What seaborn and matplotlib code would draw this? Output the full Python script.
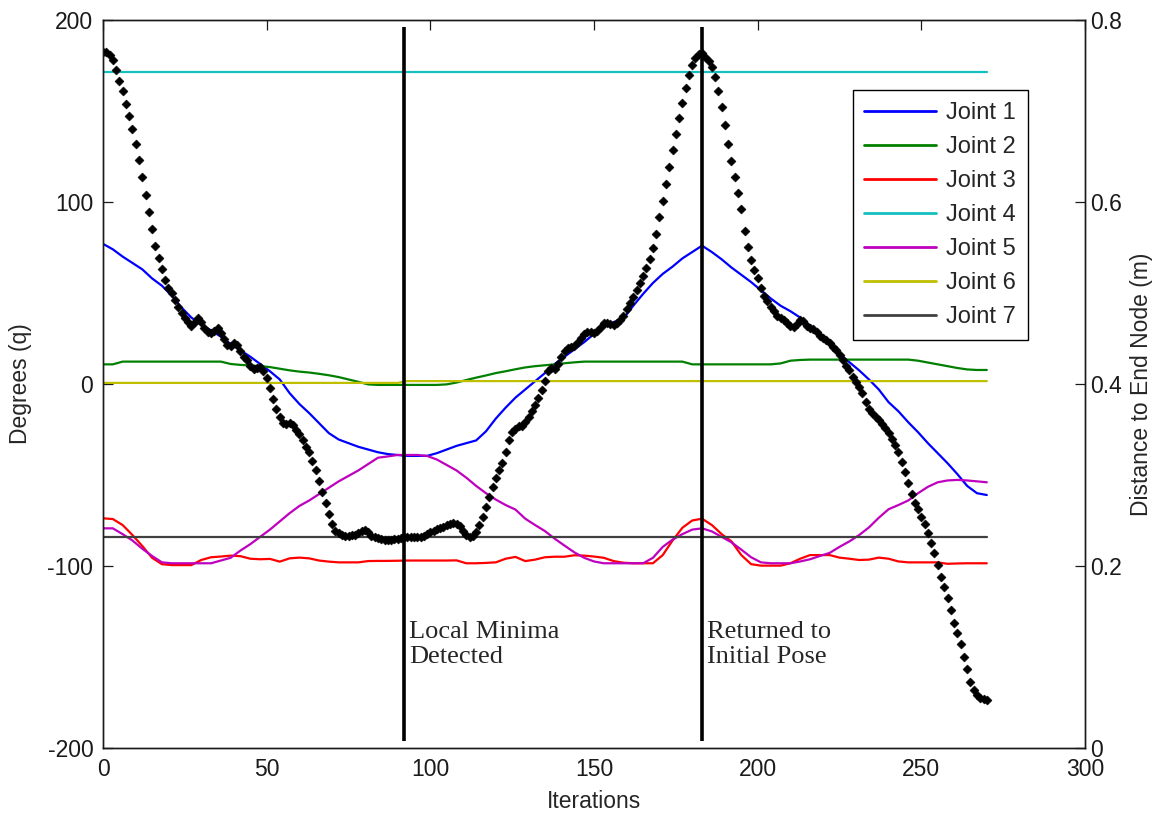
import matplotlib
matplotlib.use("Agg")
import matplotlib.pyplot as plt
import pandas as pd
import seaborn as sns

# Joint angles, read every 3 iterations
joint_iter = list(range(0, 271, 3))
joint_names = ["Joint 1", "Joint 2", "Joint 3", "Joint 4", "Joint 5", "Joint 6", "Joint 7"]

joint1 = [77, 74, 70, 66.5, 63, 58, 54, 48.5, 42, 36.5,
          32.5, 29.5, 26, 22, 18.5, 15, 11, 7, 2.5, -5,
          -11, -16, -21.5, -27, -30.5, -32.5, -34.5, -36, -37.5, -38.5,
          -39, -39.5, -39.5, -39.5, -38, -36, -34, -32.5, -31, -26,
          -19, -13, -7.5, -3, 1.5, 6, 11, 15, 19, 23,
          27.5, 31.5, 34, 36, 43, 49.5, 55.5, 60.5, 64.5, 69,
          72.5, 76, 72.5, 68.5, 64, 60, 56, 51.5, 47, 43,
          40, 36.5, 32, 27, 21.5, 16.5, 12, 7.5, 2.5, -3,
          -10, -15, -21, -26.5, -32.5, -38, -43.5, -49.5, -56, -60,
          -61]
joint2 = [10.8, 10.8, 12.3, 12.3, 12.3, 12.3, 12.3, 12.3, 12.3, 12.3,
          12.3, 12.3, 12.3, 11.0, 10.5, 10.2, 9.8, 9.3, 8.4, 7.5,
          6.8, 6.3, 5.6, 4.8, 3.8, 2.5, 1.2, -0.2, -0.5, -0.5,
          -0.5, -0.5, -0.5, -0.5, -0.5, -0.2, 0.8, 2.2, 3.5, 4.7,
          6.0, 7.0, 8.1, 9.1, 9.8, 10.3, 10.8, 11.4, 11.9, 12.3,
          12.3, 12.3, 12.3, 12.3, 12.3, 12.3, 12.3, 12.3, 12.3, 12.3,
          10.8, 10.8, 10.8, 10.8, 10.8, 10.8, 10.8, 10.8, 10.8, 11.3,
          12.8, 13.2, 13.4, 13.4, 13.4, 13.4, 13.4, 13.4, 13.4, 13.4,
          13.4, 13.4, 13.4, 12.8, 11.8, 10.8, 9.8, 8.8, 8.0, 7.7,
          7.7]
joint3 = [-73.8, -74.2, -77.5, -83.0, -89.0, -95.5, -99.0, -99.5, -99.5, -99.5,
          -96.7, -95.2, -94.8, -94.3, -94.6, -96.0, -96.3, -96.1, -97.6, -95.8,
          -95.4, -95.8, -97.0, -97.6, -98.0, -98.0, -98.0, -97.3, -97.2, -97.2,
          -97.1, -97.0, -97.0, -97.0, -97.0, -97.0, -96.9, -98.5, -98.5, -98.3,
          -98.0, -96.0, -95.0, -97.3, -96.5, -95.2, -94.9, -94.9, -94.1, -94.3,
          -94.8, -95.5, -97.3, -98.2, -98.5, -98.5, -98.5, -94.0, -86.0, -79.0,
          -75.0, -74.0, -77.5, -82.5, -86.5, -94.0, -99.0, -99.8, -99.8, -99.8,
          -98.5, -96.0, -94.0, -94.0, -94.0, -95.4, -96.0, -96.7, -96.5, -95.4,
          -96.0, -97.5, -98.0, -98.0, -98.0, -98.0, -98.8, -98.6, -98.5, -98.5,
          -98.5]
joint4 = [171.4] * len(joint_iter)
joint5 = [-79.3, -79.3, -82.5, -86.0, -90.5, -94.5, -98.0, -98.5, -98.5, -98.5,
          -98.5, -98.5, -97.0, -95.5, -91.5, -88.0, -84.0, -80.0, -75.5, -71.0,
          -67.0, -64.0, -60.5, -57.0, -53.5, -50.5, -47.5, -44.0, -40.5, -39.8,
          -39.0, -39.0, -39.0, -39.5, -41.5, -44.5, -47.5, -51.5, -56.0, -60.0,
          -63.5, -66.5, -69.0, -74.0, -77.5, -80.8, -85.0, -88.8, -92.5, -95.5,
          -97.5, -98.5, -98.5, -98.5, -98.5, -98.5, -95.5, -89.5, -85.5, -82.5,
          -80.0, -79.3, -81.0, -84.0, -87.0, -91.0, -95.2, -98.0, -98.5, -98.5,
          -98.5, -97.5, -96.3, -94.5, -92.8, -89.5, -86.5, -83.0, -78.8, -73.5,
          -68.8, -66.5, -64.0, -60.0, -56.5, -54.0, -53.0, -52.7, -53.0, -53.5,
          -54.0]
joint6 = [0.6] * 31 + [1.6] * 60
joint7 = [-84.3] * len(joint_iter)

# Distance to end node (m), one value per iteration
dist_iter = list(range(0, 271))
dist = [0.765, 0.765, 0.761, 0.756, 0.745, 0.733, 0.722, 0.708, 0.694, 0.680,
        0.664, 0.646, 0.627, 0.608, 0.589, 0.570, 0.552, 0.538, 0.526, 0.514,
        0.505, 0.500, 0.492, 0.485, 0.478, 0.473, 0.468, 0.464, 0.468, 0.472,
        0.468, 0.461, 0.457, 0.456, 0.458, 0.461, 0.456, 0.449, 0.443, 0.442,
        0.445, 0.443, 0.436, 0.430, 0.426, 0.420, 0.417, 0.418, 0.419, 0.414,
        0.407, 0.396, 0.384, 0.372, 0.364, 0.357, 0.356, 0.357, 0.355, 0.350,
        0.345, 0.338, 0.331, 0.325, 0.315, 0.305, 0.293, 0.281, 0.269, 0.257,
        0.246, 0.239, 0.236, 0.234, 0.233, 0.233, 0.234, 0.234, 0.236, 0.238,
        0.240, 0.237, 0.233, 0.232, 0.231, 0.230, 0.229, 0.229, 0.229, 0.230,
        0.230, 0.231, 0.232, 0.232, 0.232, 0.232, 0.232, 0.232, 0.233, 0.235,
        0.237, 0.239, 0.241, 0.242, 0.243, 0.245, 0.246, 0.247, 0.246, 0.244,
        0.238, 0.234, 0.232, 0.233, 0.237, 0.245, 0.254, 0.265, 0.276, 0.287,
        0.297, 0.305, 0.313, 0.325, 0.338, 0.347, 0.351, 0.354, 0.354, 0.358,
        0.364, 0.370, 0.377, 0.385, 0.393, 0.403, 0.414, 0.418, 0.416, 0.422,
        0.430, 0.436, 0.440, 0.441, 0.442, 0.446, 0.451, 0.455, 0.457, 0.457,
        0.456, 0.458, 0.463, 0.467, 0.467, 0.466, 0.465, 0.467, 0.470, 0.475,
        0.482, 0.489, 0.496, 0.503, 0.511, 0.519, 0.527, 0.537, 0.549, 0.565,
        0.583, 0.601, 0.620, 0.639, 0.657, 0.675, 0.692, 0.709, 0.725, 0.740,
        0.751, 0.758, 0.763, 0.764, 0.759, 0.755, 0.748, 0.737, 0.722, 0.704,
        0.685, 0.664, 0.645, 0.628, 0.610, 0.592, 0.568, 0.550, 0.536, 0.525,
        0.517, 0.506, 0.497, 0.491, 0.485, 0.480, 0.475, 0.472, 0.470, 0.467,
        0.464, 0.463, 0.466, 0.470, 0.469, 0.464, 0.461, 0.460, 0.457, 0.453,
        0.450, 0.448, 0.445, 0.441, 0.437, 0.432, 0.426, 0.420, 0.415, 0.408,
        0.402, 0.397, 0.390, 0.380, 0.372, 0.368, 0.364, 0.360, 0.356, 0.352,
        0.346, 0.340, 0.333, 0.325, 0.314, 0.303, 0.291, 0.279, 0.269, 0.263,
        0.254, 0.246, 0.236, 0.225, 0.214, 0.201, 0.188, 0.177, 0.165, 0.152,
        0.137, 0.126, 0.114, 0.100, 0.087, 0.073, 0.064, 0.058, 0.055, 0.054,
        0.053]

# Events marked with vertical lines
event_iter = [92, 183]
event_text = ["Local Minima\nDetected", "Returned to\nInitial Pose"]

x_ticks = [0, 50, 100, 150, 200, 250, 300]
left_ticks = [-200, -100, 0, 100, 200]
right_ticks = [0, 0.2, 0.4, 0.6, 0.8]
right_tick_labels = ["0", "0.2", "0.4", "0.6", "0.8"]

colors = ["#0000ff", "#008000", "#ff0000", "#14bfbf", "#bf00bf", "#bfbf00", "#404040"]

# long table for seaborn
series = [joint1, joint2, joint3, joint4, joint5, joint6, joint7]
df = pd.DataFrame({
    "Iterations": joint_iter * len(series),
    "Degrees": [v for s in series for v in s],
    "Joint": [n for n in joint_names for _ in joint_iter],
})

sns.set_style("white")
plt.rcParams["font.family"] = ["Liberation Sans", "DejaVu Sans"]

fig = plt.figure(figsize=(11.6, 8.16), dpi=100)
ax = fig.add_axes([103 / 1160, 68 / 816, 982 / 1160, 728 / 816])
ax2 = ax.twinx()

sns.lineplot(data=df, x="Iterations", y="Degrees", hue="Joint", palette=colors,
             linewidth=1.6, estimator=None, ax=ax)
sns.scatterplot(x=dist_iter, y=dist, marker="D", s=21, color="black",
                edgecolor="black", linewidth=0.4, legend=False, ax=ax2)

ax.vlines(event_iter, -196, 196, color="black", linewidth=2.6)
for xi, txt in zip(event_iter, event_text):
    ax.text(xi + 1.6, -130, txt, family=["Liberation Serif", "DejaVu Serif"],
            fontsize=19, va="top", ha="left", linespacing=1.18)

ax.set_xlim(0, 300)
ax.set_ylim(-200, 200)
ax2.set_ylim(0, 0.8)
ax.set_xticks(x_ticks)
ax.set_xticklabels([str(t) for t in x_ticks])
ax.set_yticks(left_ticks)
ax.set_yticklabels([str(t) for t in left_ticks])
ax2.set_yticks(right_ticks)
ax2.set_yticklabels(right_tick_labels)

ax.set_xlabel("Iterations", fontsize=16.5)
ax.set_ylabel("Degrees (q)", fontsize=16.5)
ax2.set_ylabel("Distance to End Node (m)", fontsize=16.5)
ax.xaxis.set_label_coords(0.5, -0.058)
ax.yaxis.set_label_coords(-0.0723, 0.5)
ax2.yaxis.set_label_coords(1.0458, 0.5)

ax.tick_params(direction="in", length=7, width=0.9, top=True, right=False,
               labelsize=16.5, pad=7, colors="#1a1a1a")
ax2.tick_params(direction="in", length=7, width=0.9, labelsize=16.5, pad=4,
                colors="#1a1a1a")
for a in (ax, ax2):
    for sp in a.spines.values():
        sp.set_color("#1a1a1a")
        sp.set_linewidth(1.0)

handles, labels = ax.get_legend_handles_labels()
ax.get_legend().remove()
leg = ax2.legend(handles, labels, loc="upper right",
                 bbox_to_anchor=(1028 / 1160, 1 - 90 / 816),
                 bbox_transform=fig.transFigure, borderaxespad=0,
                 frameon=True, fancybox=False, edgecolor="black", framealpha=1,
                 fontsize=17, handlelength=3.05, handletextpad=0.42,
                 labelspacing=0.51, borderpad=0.5)
leg.get_frame().set_linewidth(1.0)
for h in leg.legend_handles:
    h.set_linewidth(2.0)

fig.savefig("out.png", dpi=100)
